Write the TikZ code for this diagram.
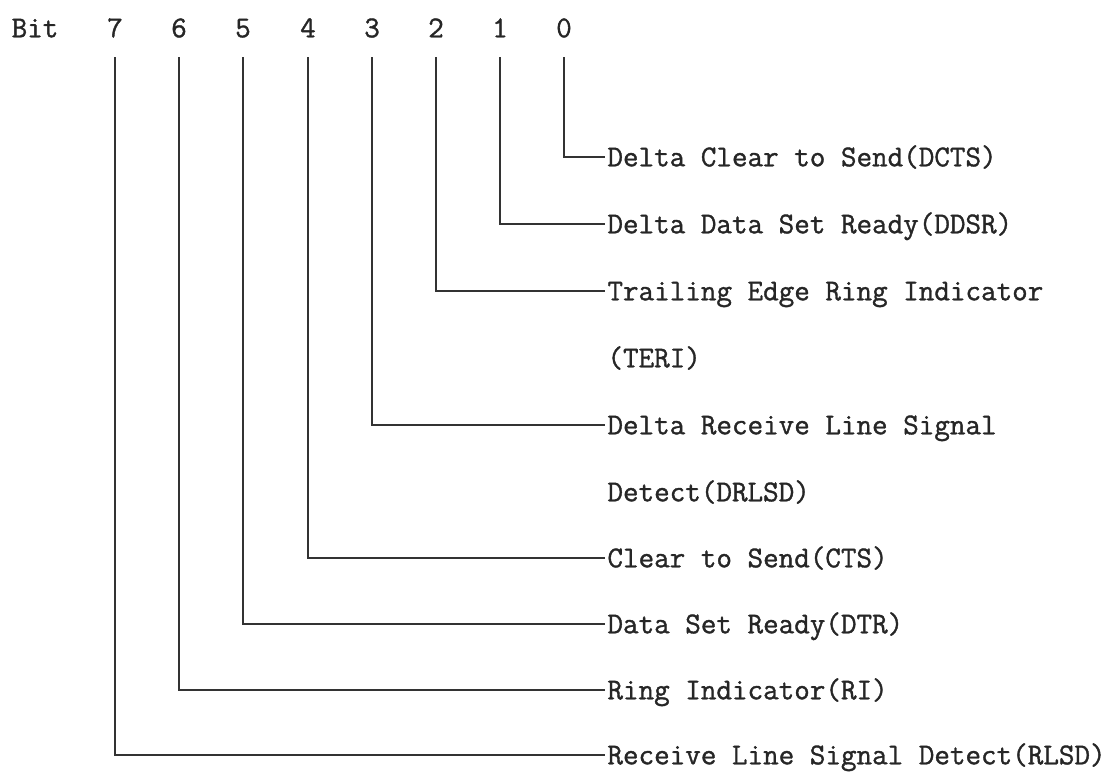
\documentclass[tikz,border=0pt]{standalone}
\usepackage{fontspec}
\newfontfamily\regfont{Latin Modern Mono}[FakeBold=1.2]
\begin{document}
\begin{tikzpicture}[x=0.03cm,y=-0.03cm,line width=2.2pt,font=\fontsize{25.8}{30}\selectfont\regfont,
    lbl/.style={inner sep=0pt,text height=15.8pt,text depth=0pt,text=black!85},
    field/.style={lbl,anchor=west,inner xsep=1pt},
    wire/.style={draw=black!80,shorten <=16pt}]
  \useasboundingbox (0,0) rectangle (1120,773);
  % bit numbers
  \node[lbl] (bit) at (35,28) {Bit};
  \foreach \b/\x in {7/115,6/179,5/243,4/308,3/372,2/436,1/500,0/564} {
    \node[lbl] (b\b) at (\x,28) {\b};
  }
  % register fields
  \node[field] (f0) at (605,157) {Delta Clear to Send(DCTS)};
  \node[field] (f1) at (605,224) {Delta Data Set Ready(DDSR)};
  \node[field] (f2) at (605,291) {Trailing Edge Ring Indicator};
  \node[field] (f2b) at (605,358) {(TERI)};
  \node[field] (f3) at (605,425) {Delta Receive Line Signal};
  \node[field] (f3b) at (605,492) {Detect(DRLSD)};
  \node[field] (f4) at (605,558) {Clear to Send(CTS)};
  \node[field] (f5) at (605,624) {Data Set Ready(DTR)};
  \node[field] (f6) at (605,690) {Ring Indicator(RI)};
  \node[field] (f7) at (605,755) {Receive Line Signal Detect(RLSD)};
  \foreach \b in {0,...,7} {
    \draw[wire] (b\b.south) |- (f\b.west);
  }
\end{tikzpicture}
\end{document}
